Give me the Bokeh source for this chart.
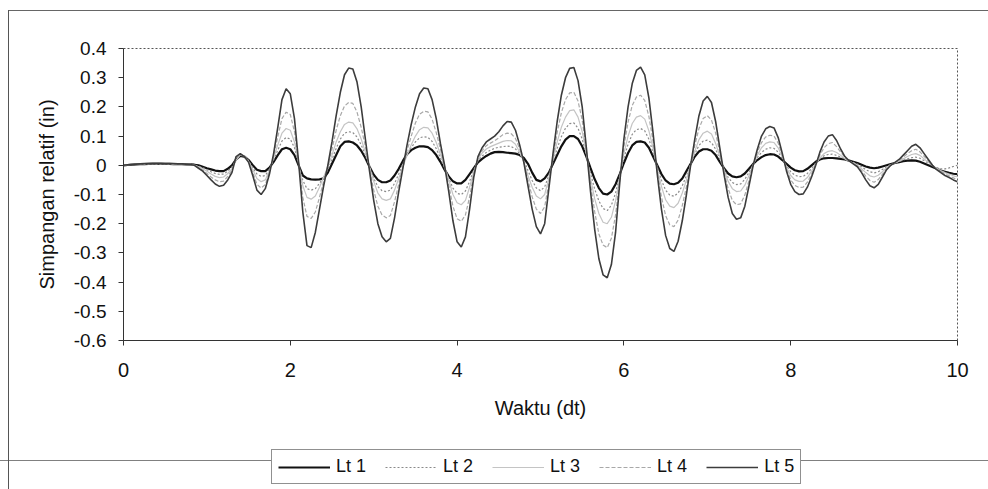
from bokeh.plotting import figure
from bokeh.layouts import column
from bokeh.models import Range1d, FixedTicker, CustomJSTickFormatter, Legend, LegendItem, ColumnDataSource
from bokeh.embed import file_html
from bokeh.resources import INLINE

# ---- data, time step 0.05 s ----
t = [round(i * 0.05, 2) for i in range(201)]

lt1 = [0.000, 0.001, 0.002, 0.003, 0.004, 0.004, 0.005, 0.005, 0.005, 0.005, 0.005, 0.005, 0.004, 0.004, 0.004, 0.003, 0.003,
       0.002, 0.000, -0.005,
       -0.010, -0.014, -0.018, -0.020, -0.020, -0.012, 0.000, 0.020, 0.032, 0.030, 0.018, 0.000, -0.015, -0.020, -0.020, -0.008, 0.012, 0.035, 0.055, 0.060,
       0.055, 0.035, 0.000, -0.035, -0.045, -0.048, -0.049, -0.048, -0.045, -0.025, 0.005, 0.035, 0.065, 0.080, 0.082, 0.078, 0.068, 0.050, 0.025, -0.005,
       -0.032, -0.050, -0.058, -0.058, -0.052, -0.035, -0.012, 0.015, 0.038, 0.052, 0.060, 0.065, 0.065, 0.062, 0.052, 0.035, 0.012, -0.015, -0.038, -0.055,
       -0.062, -0.062, -0.050, -0.030, -0.010, 0.010, 0.022, 0.032, 0.040, 0.045, 0.046, 0.045, 0.043, 0.042, 0.040, 0.035, 0.025, 0.005, -0.025, -0.050,
       -0.055, -0.045, -0.025, 0.005, 0.035, 0.065, 0.088, 0.100, 0.100, 0.090, 0.065, 0.030, -0.010, -0.048, -0.078, -0.097, -0.100, -0.090, -0.065, -0.030,
       0.008, 0.042, 0.068, 0.080, 0.082, 0.078, 0.060, 0.030, 0.000, -0.030, -0.052, -0.063, -0.065, -0.060, -0.045, -0.020, 0.005, 0.030, 0.047, 0.055,
       0.055, 0.050, 0.035, 0.012, -0.010, -0.028, -0.038, -0.041, -0.038, -0.028, -0.012, 0.005, 0.018, 0.028, 0.035, 0.038, 0.037, 0.030, 0.018, 0.005,
       -0.008, -0.017, -0.021, -0.020, -0.012, 0.000, 0.012, 0.020, 0.024, 0.025, 0.025, 0.024, 0.022, 0.020, 0.016, 0.012, 0.008, 0.002, -0.004, -0.008,
       -0.010, -0.008, -0.004, 0.000, 0.004, 0.008, 0.011, 0.014, 0.016, 0.017, 0.016, 0.012, 0.006, 0.000, -0.006, -0.012, -0.018, -0.022, -0.026, -0.029,
       -0.030]

lt2 = [0.000, 0.001, 0.002, 0.003, 0.004, 0.004, 0.005, 0.005, 0.005, 0.005, 0.005, 0.005, 0.004, 0.004, 0.004, 0.003, 0.003,
       0.001, -0.003, -0.008,
       -0.015, -0.022, -0.028, -0.031, -0.030, -0.020, -0.006, 0.019, 0.034, 0.031, 0.016, -0.008, -0.030, -0.038, -0.035, -0.013, 0.018, 0.052, 0.083, 0.095,
       0.090, 0.060, 0.004, -0.052, -0.080, -0.085, -0.080, -0.062, -0.042, -0.015, 0.020, 0.058, 0.090, 0.110, 0.115, 0.112, 0.097, 0.070, 0.035, -0.005,
       -0.044, -0.073, -0.087, -0.090, -0.085, -0.062, -0.030, 0.005, 0.036, 0.061, 0.080, 0.094, 0.098, 0.096, 0.082, 0.057, 0.025, -0.010, -0.045, -0.078,
       -0.096, -0.100, -0.088, -0.055, -0.016, 0.015, 0.032, 0.044, 0.052, 0.058, 0.062, 0.064, 0.066, 0.064, 0.056, 0.040, 0.018, -0.018, -0.052, -0.078,
       -0.087, -0.074, -0.035, 0.013, 0.058, 0.098, 0.127, 0.143, 0.145, 0.127, 0.090, 0.035, -0.028, -0.082, -0.122, -0.148, -0.155, -0.137, -0.095, -0.035,
       0.025, 0.072, 0.106, 0.122, 0.126, 0.118, 0.089, 0.044, -0.006, -0.051, -0.085, -0.102, -0.106, -0.095, -0.070, -0.035, 0.003, 0.039, 0.068, 0.083,
       0.086, 0.078, 0.055, 0.021, -0.012, -0.042, -0.059, -0.066, -0.064, -0.048, -0.024, 0.003, 0.027, 0.044, 0.055, 0.060, 0.058, 0.045, 0.023, -0.002,
       -0.022, -0.034, -0.039, -0.038, -0.028, -0.011, 0.008, 0.023, 0.033, 0.037, 0.038, 0.034, 0.028, 0.021, 0.015, 0.010, 0.004, -0.005, -0.015, -0.022,
       -0.026, -0.022, -0.014, -0.005, 0.003, 0.008, 0.013, 0.018, 0.022, 0.026, 0.028, 0.024, 0.016, 0.007, -0.002, -0.008, -0.012, -0.012, -0.009, -0.004,
       0.000]

lt3 = [0.000, 0.002, 0.003, 0.004, 0.005, 0.006, 0.006, 0.006, 0.006, 0.006, 0.006, 0.006, 0.005, 0.005, 0.004, 0.004, 0.003,
       0.001, -0.005, -0.012,
       -0.020, -0.030, -0.038, -0.042, -0.040, -0.028, -0.012, 0.018, 0.036, 0.032, 0.014, -0.015, -0.045, -0.056, -0.050, -0.018, 0.025, 0.070, 0.110, 0.126,
       0.120, 0.080, 0.005, -0.070, -0.110, -0.116, -0.105, -0.075, -0.040, -0.005, 0.035, 0.080, 0.115, 0.140, 0.148, 0.145, 0.125, 0.090, 0.045, -0.005,
       -0.055, -0.095, -0.115, -0.120, -0.115, -0.085, -0.045, -0.005, 0.035, 0.070, 0.100, 0.122, 0.130, 0.128, 0.110, 0.078, 0.037, -0.005, -0.050, -0.100,
       -0.128, -0.135, -0.120, -0.075, -0.022, 0.020, 0.042, 0.056, 0.064, 0.070, 0.076, 0.082, 0.085, 0.084, 0.072, 0.045, 0.012, -0.035, -0.075, -0.105,
       -0.115, -0.100, -0.045, 0.020, 0.080, 0.130, 0.165, 0.187, 0.190, 0.165, 0.115, 0.040, -0.045, -0.115, -0.165, -0.195, -0.200, -0.178, -0.122, -0.040,
       0.040, 0.100, 0.143, 0.165, 0.170, 0.158, 0.118, 0.058, -0.012, -0.072, -0.118, -0.140, -0.145, -0.130, -0.095, -0.050, 0.002, 0.048, 0.088, 0.110,
       0.117, 0.107, 0.075, 0.030, -0.015, -0.055, -0.080, -0.090, -0.088, -0.068, -0.035, 0.002, 0.035, 0.060, 0.075, 0.080, 0.078, 0.060, 0.028, -0.008,
       -0.035, -0.050, -0.055, -0.054, -0.042, -0.020, 0.004, 0.025, 0.040, 0.048, 0.050, 0.044, 0.034, 0.022, 0.014, 0.008, 0.000, -0.012, -0.025, -0.036,
       -0.040, -0.034, -0.022, -0.008, 0.002, 0.008, 0.014, 0.022, 0.030, 0.037, 0.040, 0.034, 0.022, 0.010, 0.000, -0.010, -0.018, -0.025, -0.030, -0.036,
       -0.040]

lt4 = [0.000, 0.002, 0.003, 0.004, 0.005, 0.006, 0.006, 0.006, 0.006, 0.006, 0.006, 0.006, 0.005, 0.005, 0.004, 0.004, 0.003,
       0.000, -0.008, -0.016,
       -0.028, -0.040, -0.050, -0.056, -0.054, -0.038, -0.018, 0.024, 0.038, 0.031, 0.012, -0.025, -0.065, -0.078, -0.066, -0.024, 0.032, 0.098, 0.160, 0.182,
       0.174, 0.115, 0.008, -0.110, -0.175, -0.182, -0.160, -0.110, -0.055, -0.003, 0.055, 0.120, 0.170, 0.203, 0.215, 0.212, 0.182, 0.130, 0.065, -0.012,
       -0.085, -0.140, -0.170, -0.180, -0.172, -0.125, -0.065, -0.007, 0.050, 0.100, 0.145, 0.175, 0.185, 0.183, 0.158, 0.112, 0.055, -0.003, -0.068, -0.140,
       -0.183, -0.192, -0.170, -0.108, -0.030, 0.025, 0.050, 0.067, 0.076, 0.084, 0.094, 0.105, 0.110, 0.108, 0.092, 0.057, 0.012, -0.050, -0.108, -0.150,
       -0.165, -0.142, -0.060, 0.030, 0.112, 0.180, 0.225, 0.248, 0.250, 0.220, 0.155, 0.050, -0.065, -0.160, -0.235, -0.273, -0.282, -0.250, -0.170, -0.050,
       0.063, 0.148, 0.205, 0.234, 0.240, 0.222, 0.167, 0.082, -0.020, -0.108, -0.172, -0.204, -0.210, -0.188, -0.138, -0.073, 0.001, 0.068, 0.126, 0.160,
       0.170, 0.155, 0.110, 0.044, -0.022, -0.080, -0.120, -0.135, -0.132, -0.102, -0.052, 0.001, 0.045, 0.078, 0.097, 0.103, 0.100, 0.076, 0.034, -0.014,
       -0.050, -0.069, -0.076, -0.075, -0.058, -0.030, 0.002, 0.035, 0.060, 0.074, 0.078, 0.064, 0.045, 0.027, 0.015, 0.007, -0.003, -0.018, -0.037, -0.052,
       -0.058, -0.049, -0.031, -0.012, 0.001, 0.009, 0.017, 0.028, 0.040, 0.050, 0.055, 0.046, 0.031, 0.015, 0.000, -0.012, -0.021, -0.030, -0.036, -0.043,
       -0.050]

lt5 = [0.000, 0.002, 0.003, 0.004, 0.005, 0.006, 0.006, 0.007, 0.007, 0.007, 0.006, 0.006, 0.006, 0.005, 0.005, 0.004, 0.003,
       0.000, -0.010, -0.020,
       -0.035, -0.050, -0.064, -0.072, -0.068, -0.050, -0.025, 0.030, 0.040, 0.030, 0.010, -0.035, -0.085, -0.100, -0.080, -0.030, 0.040, 0.130, 0.225, 0.262,
       0.245, 0.160, 0.010, -0.160, -0.275, -0.282, -0.230, -0.150, -0.070, 0.000, 0.080, 0.170, 0.250, 0.310, 0.333, 0.330, 0.285, 0.200, 0.090, -0.020,
       -0.120, -0.200, -0.245, -0.262, -0.250, -0.180, -0.090, -0.010, 0.070, 0.140, 0.200, 0.245, 0.265, 0.262, 0.225, 0.160, 0.075, 0.000, -0.090, -0.190,
       -0.262, -0.280, -0.245, -0.150, -0.040, 0.030, 0.060, 0.080, 0.090, 0.100, 0.115, 0.135, 0.150, 0.148, 0.120, 0.070, 0.010, -0.070, -0.150, -0.210,
       -0.235, -0.200, -0.080, 0.040, 0.150, 0.240, 0.300, 0.332, 0.335, 0.290, 0.200, 0.060, -0.090, -0.220, -0.320, -0.375, -0.385, -0.340, -0.230, -0.060,
       0.090, 0.200, 0.280, 0.325, 0.336, 0.310, 0.230, 0.110, -0.030, -0.150, -0.240, -0.285, -0.295, -0.260, -0.190, -0.100, 0.000, 0.090, 0.170, 0.220,
       0.236, 0.215, 0.150, 0.060, -0.030, -0.110, -0.165, -0.185, -0.180, -0.140, -0.070, 0.000, 0.055, 0.100, 0.125, 0.133, 0.128, 0.095, 0.040, -0.020,
       -0.065, -0.090, -0.100, -0.098, -0.075, -0.040, 0.000, 0.045, 0.080, 0.100, 0.105, 0.085, 0.055, 0.030, 0.015, 0.005, -0.005, -0.025, -0.050, -0.070,
       -0.077, -0.065, -0.040, -0.015, 0.000, 0.010, 0.020, 0.035, 0.050, 0.065, 0.072, 0.060, 0.040, 0.020, 0.000, -0.015, -0.025, -0.035, -0.042, -0.050,
       -0.056]

series_names = ["Lt 1", "Lt 2", "Lt 3", "Lt 4", "Lt 5"]
x_ticks = [0, 2, 4, 6, 8, 10]
y_ticks = [-0.6, -0.5, -0.4, -0.3, -0.2, -0.1, 0.0, 0.1, 0.2, 0.3, 0.4]

for s in (lt1, lt2, lt3, lt4, lt5):
    assert len(s) == len(t), len(s)

FONT = "Liberation Sans"

# ---- main chart ----
p = figure(width=988, height=449, output_backend="svg", toolbar_location=None,
           x_range=Range1d(0, 10), y_range=Range1d(-0.6, 0.4),
           min_border_left=123, min_border_right=31, min_border_top=48, min_border_bottom=109)
p.margin = (0, 0, 0, 0)
p.background_fill_color = "white"
p.border_fill_alpha = 0
p.xgrid.visible = False
p.ygrid.visible = False
p.outline_line_color = "#555555"
p.outline_line_dash = "2 2"
p.outline_line_width = 1

for ax in (p.xaxis[0], p.yaxis[0]):
    ax.axis_line_color = "#333333"
    ax.major_tick_line_color = "#333333"
    ax.major_tick_out = 5
    ax.major_tick_in = 0
    ax.minor_tick_out = 0
    ax.minor_tick_in = 0
    ax.major_label_text_font = FONT
    ax.axis_label_text_font = FONT
    ax.axis_label_text_font_style = "normal"
    ax.major_label_text_color = "#111111"
    ax.axis_label_text_color = "#111111"

p.xaxis.ticker = FixedTicker(ticks=x_ticks)
p.yaxis.ticker = FixedTicker(ticks=y_ticks)
p.yaxis.formatter = CustomJSTickFormatter(code="return (Math.round(tick*10)/10).toString();")
p.xaxis.major_label_text_font_size = "20px"
p.yaxis.major_label_text_font_size = "19px"
p.xaxis.axis_label = "Waktu (dt)"
p.yaxis.axis_label = "Simpangan relatif (in)"
p.xaxis.axis_label_text_font_size = "20px"
p.yaxis.axis_label_text_font_size = "20px"
p.xaxis.major_label_standoff = 17
p.xaxis.axis_label_standoff = 17
p.yaxis.major_label_standoff = 12
p.yaxis.axis_label_standoff = 13

src = ColumnDataSource(dict(t=t, lt1=lt1, lt2=lt2, lt3=lt3, lt4=lt4, lt5=lt5))

styles = [
    ("lt1", "#111111", 2.2, "solid"),
    ("lt2", "#8a8a8a", 1.2, "2 2"),
    ("lt3", "#c4c4c4", 1.2, "solid"),
    ("lt4", "#a8a8a8", 1.2, "4 2"),
    ("lt5", "#3c3c3c", 1.6, "solid"),
]
for col, color, w, dash in styles:
    p.line("t", col, source=src, line_color=color, line_width=w, line_dash=dash)

# ---- legend strip below: same series, drawn outside its visible range so only the legend shows ----
q = figure(width=988, height=40, output_backend="svg", toolbar_location=None,
           x_range=Range1d(0, 10), y_range=Range1d(5, 6),
           x_axis_location=None, y_axis_location=None,
           min_border_left=0, min_border_right=0, min_border_top=0, min_border_bottom=0)
q.margin = (0, 0, 0, 0)
q.xgrid.visible = False
q.ygrid.visible = False
q.outline_line_color = None
q.background_fill_alpha = 0
q.border_fill_alpha = 0
legend_renderers = []
for col, color, w, dash in styles:
    r = q.line("t", col, source=src, line_color=color, line_width=w, line_dash=dash)
    legend_renderers.append(r)

legend = Legend(items=[LegendItem(label=n, renderers=[r]) for n, r in zip(series_names, legend_renderers)],
                orientation="horizontal", location=(148, 5),
                label_text_font=FONT, label_text_font_size="18px", label_text_color="#111111",
                glyph_width=52, glyph_height=18, label_standoff=6, spacing=19,
                padding=6, margin=0, border_line_color="#222222", border_line_width=1,
                background_fill_color="white", background_fill_alpha=1.0)
q.add_layout(legend)

layout = column(p, q, spacing=0)
layout.styles = {
    "background-color": "white",
    "background-image": "linear-gradient(#555,#555), linear-gradient(#666,#666), linear-gradient(#808080,#808080)",
    "background-size": "1px 479px, 980px 1px, 988px 1px",
    "background-position": "8px 10px, 8px 10px, 0px 460px",
    "background-repeat": "no-repeat",
}

open("out.html", "w").write(file_html(layout, INLINE))
